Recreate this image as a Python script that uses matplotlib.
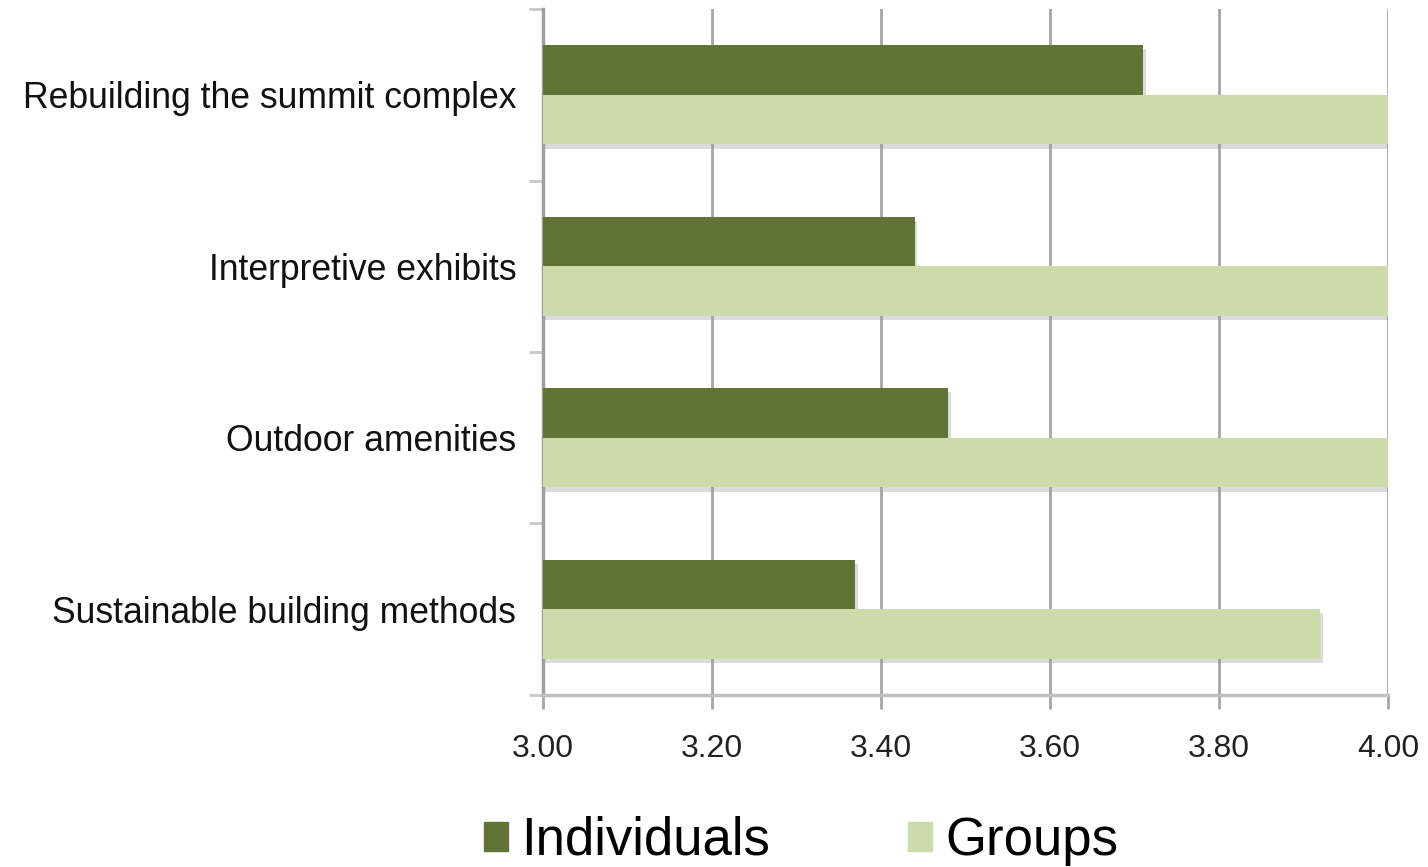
import numpy as np
import matplotlib.pyplot as plt
import matplotlib.patheffects as pe

categories = ['Rebuilding the summit complex', 'Interpretive exhibits',
              'Outdoor amenities', 'Sustainable building methods']
individuals = [3.71, 3.44, 3.48, 3.37]
groups = [4.00, 4.00, 4.00, 3.92]
xticks = [3.00, 3.20, 3.40, 3.60, 3.80, 4.00]

plt.rcParams['font.family'] = ['Liberation Sans', 'DejaVu Sans']

fig = plt.figure(figsize=(14.28, 8.67), dpi=100)
ax = fig.add_axes([0.380, 0.1984, 0.592, 0.7912])

y = np.arange(len(categories))
h = 0.29
shadow = [pe.SimplePatchShadow(offset=(2, -3), shadow_rgbFace='#999999', alpha=0.35), pe.Normal()]
b1 = ax.barh(y - h / 2, np.array(individuals) - 3, height=h, left=3,
             color='#627435', label='Individuals', zorder=3)
b2 = ax.barh(y + h / 2, np.array(groups) - 3, height=h, left=3,
             color='#CDDBAB', label='Groups', zorder=3)
for bar in list(b1) + list(b2):
    bar.set_path_effects(shadow)

ax.set_xlim(3.0, 4.0)
ax.set_ylim(len(categories) - 0.5, -0.5)
ax.set_xticks(xticks)
ax.set_xticklabels([f'{v:.2f}' for v in xticks], fontsize=23, color='#222222')
ax.set_yticks(y)
ax.set_yticklabels(categories, fontsize=25.6, color='#111111')
ax.set_yticks(np.arange(len(categories) + 1) - 0.5, minor=True)

ax.tick_params(axis='y', which='major', length=0, pad=19)
ax.tick_params(axis='y', which='minor', length=10, width=2, color='#c8c8c8')
ax.tick_params(axis='x', length=10, width=2, color='#a6a6a6', pad=18)

ax.grid(axis='x', color='#a6a6a6', linewidth=2, zorder=0)
ax.set_axisbelow(True)
for s in ['top', 'right']:
    ax.spines[s].set_visible(False)
ax.spines['left'].set_color('#a0a0a0')
ax.spines['left'].set_linewidth(2.5)
ax.spines['bottom'].set_color('#c0c0c0')
ax.spines['bottom'].set_linewidth(2.5)

leg_handles = [plt.Rectangle((0, 0), 1, 1, color='#627435'),
               plt.Rectangle((0, 0), 1, 1, color='#CDDBAB')]
fig.legend(leg_handles, ['Individuals', 'Groups'], loc='center',
           bbox_to_anchor=(0.561, 0.03), ncol=2,
           frameon=False, fontsize=38, handlelength=0.47, handleheight=0.47,
           handletextpad=0.25, columnspacing=2.6)

fig.savefig('out.png', dpi=100)
